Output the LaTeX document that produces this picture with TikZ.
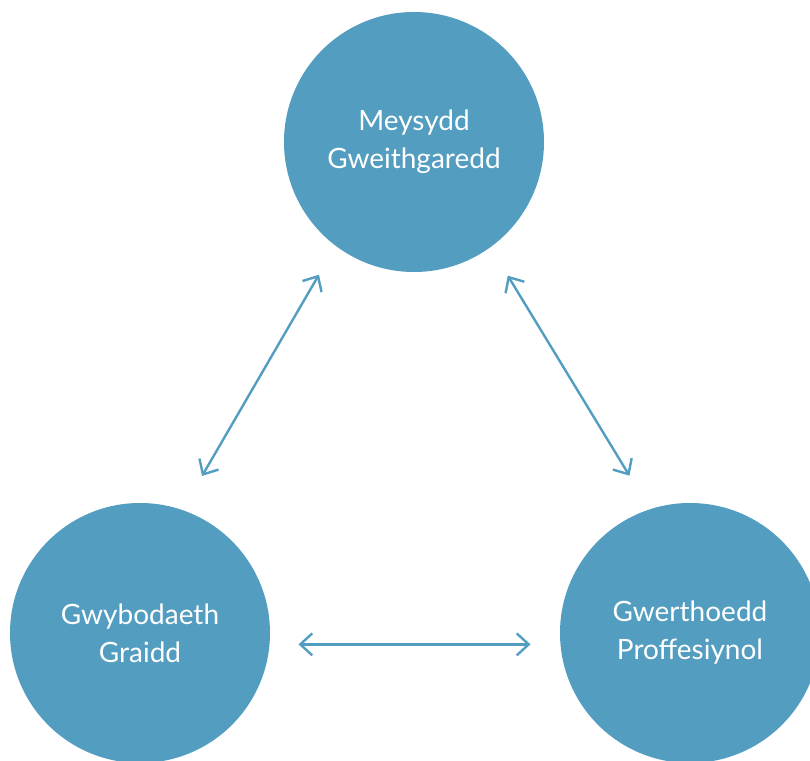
\documentclass[tikz,border=0pt]{standalone}
\usepackage{fontspec}
\setmainfont{Lato}
\usetikzlibrary{arrows.meta}
\definecolor{circblue}{HTML}{529DC0}
\begin{document}
\begin{tikzpicture}[x=0.5pt,y=0.5pt,
		area/.style={circle, fill=circblue, text=white, minimum size=130pt, inner sep=0pt, align=center, font=\fontsize{14}{19}\selectfont},
		link/.style={circblue, line width=1.2pt, {Straight Barb[length=6pt,width=11pt]}-{Straight Barb[length=6pt,width=11pt]}}]
			\useasboundingbox (0,0) rectangle (810,761);
			\node[area] (meysydd) at (414,619) {Meysydd\\Gweithgaredd};
			\node[area] (gwybodaeth) at (140,128) {Gwybodaeth\\Graidd};
			\node[area] (gwerthoedd) at (690,128) {Gwerthoedd\\Proffesiynol};
			\draw[link, shorten <=16.5pt, shorten >=19.5pt] (meysydd.233.6) -- (gwybodaeth.71.6);
			\draw[link, shorten <=16.5pt, shorten >=19.5pt] (meysydd.306.4) -- (gwerthoedd.108.4);
			\draw[link, shorten <=14.3pt, shorten >=14.8pt] (gwybodaeth.-5.3) -- (gwerthoedd.185.3);
		\end{tikzpicture}
\end{document}
